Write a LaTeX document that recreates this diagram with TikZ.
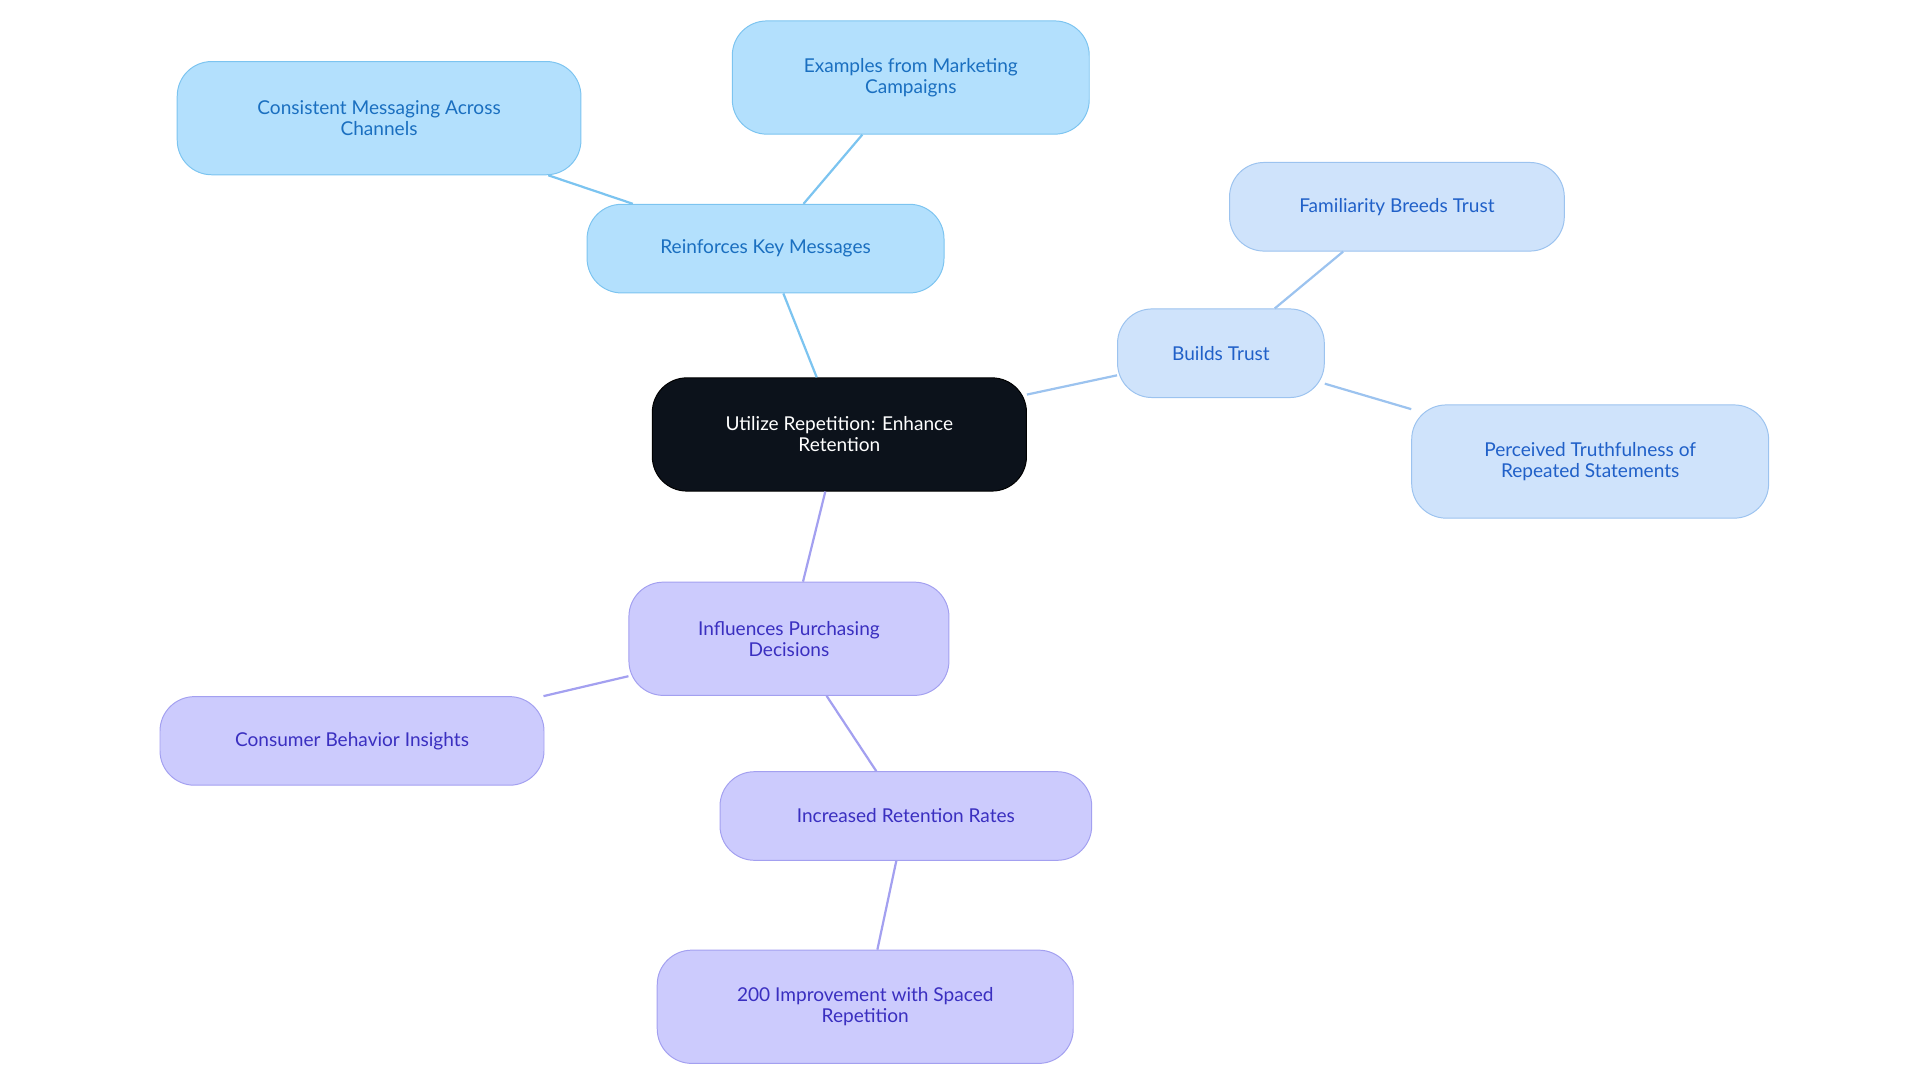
\documentclass[tikz,border=0pt]{standalone}
\usepackage{fontspec}
\setmainfont{Lato}
\begin{document}
\begin{tikzpicture}[x=1pt,y=-1pt,
 base/.style={rounded corners=28pt,draw,line width=0.8pt,align=center,font=\fontsize{15.5}{17}\selectfont,inner sep=0pt},
 bl/.style={base,fill=blue1,draw=blue1d,text=blue1t},
 lb/.style={base,fill=blue2,draw=blue2d,text=blue2t},
 pu/.style={base,fill=pur,draw=purd,text=purt},
 e/.style={line width=1.8pt}]
\definecolor{blue1}{HTML}{B3E0FD}\definecolor{blue1d}{HTML}{7CC4F0}\definecolor{blue1t}{HTML}{1A6FC0}
\definecolor{blue2}{HTML}{CFE3FB}\definecolor{blue2d}{HTML}{9CC3EF}\definecolor{blue2t}{HTML}{2060C8}
\definecolor{pur}{HTML}{CCCBFD}\definecolor{purd}{HTML}{A3A0F0}\definecolor{purt}{HTML}{3A2FC0}
\useasboundingbox (0,0) rectangle (1560,880);
\node[base,fill={rgb,255:red,12;green,18;blue,27},text=white,draw=black,minimum width=304pt,minimum height=92pt] (c) at (682,353) {Utilize Repetition: Enhance\\Retention};
\node[bl,minimum width=290pt,minimum height=72pt] (r) at (622,202) {Reinforces Key Messages};
\node[bl,minimum width=290pt,minimum height=92pt] (ex) at (740,63) {Examples from Marketing\\Campaigns};
\node[bl,minimum width=328pt,minimum height=92pt] (co) at (308,96) {Consistent Messaging Across\\Channels};
\node[lb,minimum width=168pt,minimum height=72pt] (b) at (992,287) {Builds Trust};
\node[lb,minimum width=272pt,minimum height=72pt] (f) at (1135,168) {Familiarity Breeds Trust};
\node[lb,minimum width=290pt,minimum height=92pt] (p) at (1292,375) {Perceived Truthfulness of\\Repeated Statements};
\node[pu,minimum width=260pt,minimum height=92pt] (i) at (641,519) {Influences Purchasing\\Decisions};
\node[pu,minimum width=312pt,minimum height=72pt] (cb) at (286,602) {Consumer Behavior Insights};
\node[pu,minimum width=302pt,minimum height=72pt] (ir) at (736,663) {Increased Retention Rates};
\node[pu,minimum width=338pt,minimum height=92pt] (t) at (703,818) {200 Improvement with Spaced\\Repetition};
\begin{scope}[on background layer/.style={}]
\end{scope}
\draw[e,blue1d] (c) -- (r); \draw[e,blue1d] (r) -- (ex); \draw[e,blue1d] (r) -- (co);
\draw[e,blue2d] (c) -- (b); \draw[e,blue2d] (b) -- (f); \draw[e,blue2d] (b) -- (p);
\draw[e,purd] (c) -- (i); \draw[e,purd] (i) -- (cb); \draw[e,purd] (i) -- (ir); \draw[e,purd] (ir) -- (t);
\end{tikzpicture}
\end{document}
